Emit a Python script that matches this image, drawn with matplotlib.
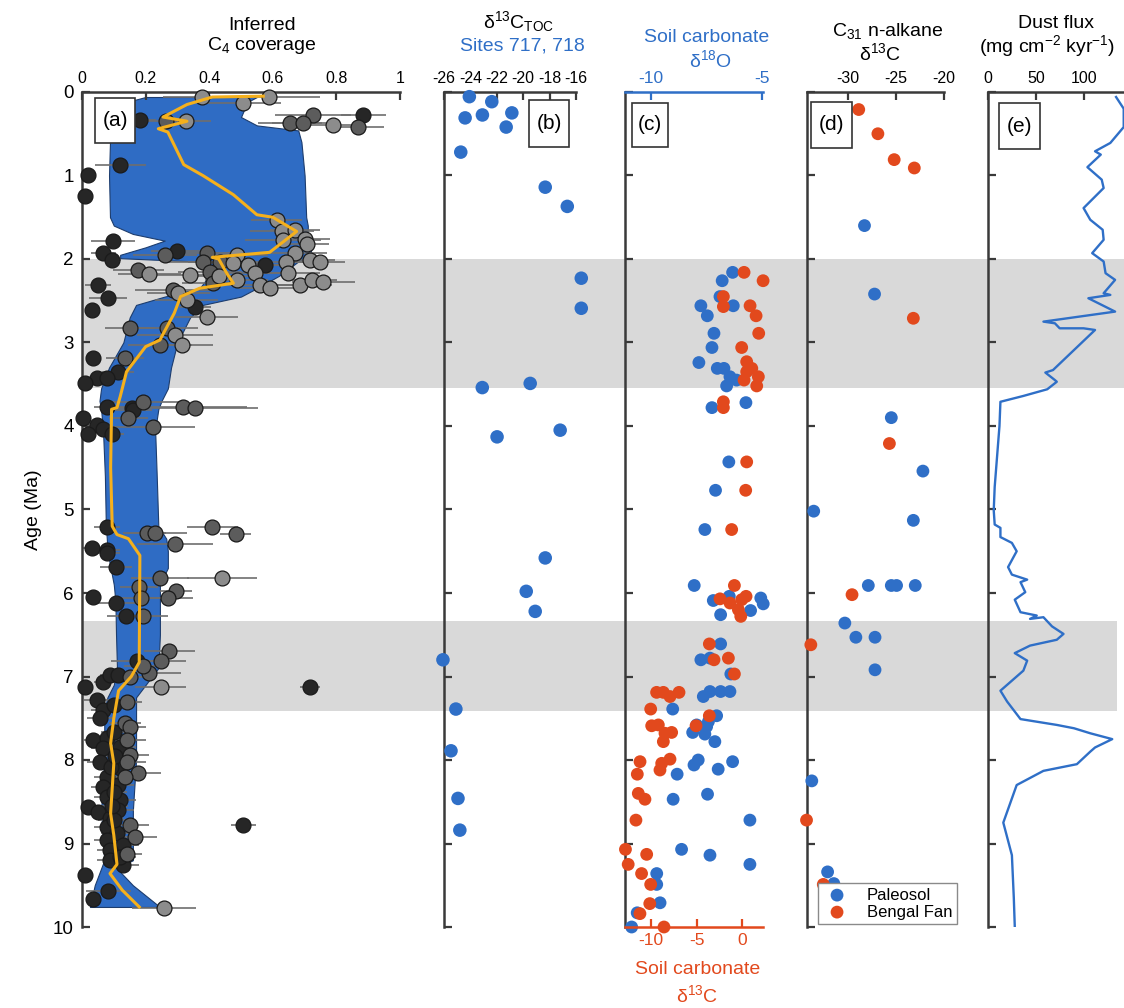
import matplotlib
matplotlib.use('Agg')
import matplotlib.pyplot as plt
from matplotlib.patches import Rectangle
from matplotlib.transforms import blended_transform_factory

plt.rcParams['font.family'] = ['Liberation Sans', 'DejaVu Sans']
plt.rcParams['mathtext.default'] = 'regular'
plt.rcParams['axes.unicode_minus'] = False

# ---------------- data ----------------
# panel (a): inferred C4 coverage (envelope, median, samples)
band_y = [0.06, 0.12, 0.30, 0.40, 0.46, 0.60, 1.00, 1.50, 1.60, 1.70, 1.78, 1.86, 1.95, 1.99, 2.03,
          2.20, 2.35, 2.45, 2.55, 2.70, 3.00, 3.30, 3.55, 3.70, 3.80, 4.05, 4.60, 5.20, 5.35, 5.50,
          5.70, 5.90, 6.10, 6.50, 6.90, 7.10, 7.25, 7.40, 8.00, 8.60, 9.20, 9.30, 9.50, 9.76]
band_lo = [0.20, 0.14, 0.10, 0.095, 0.09, 0.088, 0.085, 0.088, 0.10, 0.16, 0.26, 0.20, 0.12, 0.12, 0.36,
           0.40, 0.37, 0.26, 0.17, 0.15, 0.13, 0.085, 0.06, 0.055, 0.06, 0.066, 0.072, 0.075, 0.078, 0.08,
           0.09, 0.10, 0.105, 0.107, 0.11, 0.10, 0.08, 0.07, 0.07, 0.06, 0.07, 0.06, 0.04, 0.025]
band_hi = [0.55, 0.52, 0.50, 0.55, 0.68, 0.69, 0.70, 0.705, 0.71, 0.71, 0.72, 0.72, 0.72, 0.70, 0.68,
           0.62, 0.55, 0.50, 0.38, 0.34, 0.30, 0.28, 0.27, 0.25, 0.24, 0.23, 0.235, 0.24, 0.265, 0.27,
           0.27, 0.245, 0.245, 0.245, 0.24, 0.20, 0.17, 0.17, 0.17, 0.16, 0.16, 0.11, 0.16, 0.245]

med_y = [0.05, 0.06, 0.15, 0.30, 0.35, 0.44, 0.48, 0.87, 1.00, 1.23, 1.47, 1.50, 1.67, 1.92, 1.98,
         2.00, 2.17, 2.29, 2.35, 2.45, 2.65, 2.97, 3.05, 3.20, 3.35, 3.65, 3.78, 3.80, 4.50, 5.20,
         5.30, 5.35, 5.55, 6.83, 7.00, 7.17, 7.50, 7.80, 8.04, 8.64, 8.90, 9.25, 9.36, 9.56, 9.76]
med_x = [0.57, 0.41, 0.33, 0.255, 0.33, 0.24, 0.27, 0.32, 0.38, 0.476, 0.55, 0.60, 0.675, 0.59, 0.41,
         0.43, 0.455, 0.476, 0.37, 0.31, 0.29, 0.245, 0.20, 0.17, 0.14, 0.12, 0.11, 0.093, 0.09, 0.095,
         0.11, 0.146, 0.182, 0.18, 0.155, 0.115, 0.10, 0.09, 0.10, 0.09, 0.10, 0.11, 0.088, 0.127, 0.18]

a_dark_x = [0.182, 0.885, 0.120, 0.020, 0.010, 0.098, 0.067, 0.093, 0.298, 0.575, 0.051, 0.083, 0.355, 0.030,
            0.036, 0.114, 0.046, 0.078, 0.009, 0.078, 0.156, 0.161, 0.004, 0.046, 0.067, 0.093, 0.020, 0.078,
            0.030, 0.078, 0.080, 0.107, 0.036, 0.107, 0.138, 0.172, 0.717, 0.009, 0.067, 0.088, 0.114,
            0.046, 0.067, 0.057, 0.036, 0.078, 0.067, 0.120, 0.057, 0.120, 0.078, 0.067, 0.114, 0.078,
            0.120, 0.020, 0.051, 0.114, 0.088, 0.078, 0.109, 0.078, 0.130, 0.088, 0.088, 0.130,
            0.100, 0.100, 0.090, 0.100, 0.100, 0.120, 0.105, 0.095,
            0.507, 0.009, 0.083, 0.034]
a_dark_y = [0.335, 0.275, 0.874, 0.994, 1.25, 1.79, 1.93, 2.01, 1.91, 2.07, 2.31, 2.47, 2.57, 2.61,
            3.19, 3.35, 3.43, 3.43, 3.49, 3.77, 3.79, 3.81, 3.91, 3.99, 4.03, 4.09, 4.09, 5.21,
            5.46, 5.49, 5.52, 5.69, 6.05, 6.12, 6.28, 6.82, 7.12, 7.12, 7.06, 6.98, 6.98,
            7.28, 7.40, 7.50, 7.76, 7.74, 7.86, 7.84, 8.02, 8.10, 8.20, 8.32, 8.30, 8.44,
            8.48, 8.56, 8.62, 8.60, 8.70, 8.80, 8.88, 8.96, 9.02, 9.08, 9.20, 9.26,
            7.34, 7.66, 8.08, 8.38, 8.72, 9.16, 7.95, 8.55,
            8.78, 9.38, 9.57, 9.66]
a_dark_err = [0.05, 0.07, 0.08, 0.0, 0.0, 0.07, 0.04, 0.03, 0.08, 0.08, 0.04, 0.06, 0.05, 0.0,
              0.0, 0.05, 0.03, 0.03, 0.0, 0.04, 0.05, 0.06, 0.0, 0.03, 0.04, 0.04, 0.0, 0.04,
              0.03, 0.04, 0.04, 0.05, 0.02, 0.06, 0.06, 0.08, 0.03, 0.0, 0.03, 0.03, 0.03,
              0.04, 0.04, 0.04, 0.03, 0.05, 0.04, 0.05, 0.04, 0.05, 0.04, 0.04, 0.05, 0.04,
              0.05, 0.02, 0.04, 0.05, 0.04, 0.04, 0.05, 0.04, 0.05, 0.04, 0.04, 0.05,
              0.04, 0.04, 0.04, 0.04, 0.05, 0.05, 0.05, 0.05,
              0.04, 0.0, 0.07, 0.0]

a_mid_x = [0.264, 0.727, 0.654, 0.696, 0.869, 0.261, 0.392, 0.380, 0.434, 0.177, 0.402, 0.413, 0.287,
           0.151, 0.266, 0.245, 0.135, 0.193, 0.319, 0.355, 0.146, 0.224, 0.203, 0.230, 0.410, 0.483,
           0.292, 0.245, 0.180, 0.296, 0.186, 0.269, 0.191, 0.275, 0.248, 0.212, 0.193, 0.151, 0.140,
           0.135, 0.151, 0.140, 0.151, 0.140, 0.177, 0.135, 0.151, 0.167, 0.140]
a_mid_y = [0.343, 0.275, 0.375, 0.375, 0.415, 1.95, 1.93, 2.03, 2.03, 2.13, 2.15, 2.29, 2.37,
           2.83, 2.83, 3.03, 3.19, 3.71, 3.77, 3.79, 3.90, 4.01, 5.28, 5.28, 5.21, 5.29,
           5.41, 5.82, 5.93, 5.98, 6.06, 6.06, 6.28, 6.70, 6.82, 6.96, 6.88, 7.00, 7.30,
           7.56, 7.60, 7.76, 7.94, 8.02, 8.16, 8.20, 8.78, 8.92, 9.12]
a_mid_err = [0.06, 0.12, 0.10, 0.10, 0.08, 0.10, 0.12, 0.12, 0.10, 0.08, 0.10, 0.10, 0.12,
             0.08, 0.10, 0.10, 0.06, 0.12, 0.20, 0.20, 0.06, 0.13, 0.06, 0.10, 0.08, 0.05,
             0.12, 0.09, 0.06, 0.05, 0.08, 0.08, 0.08, 0.08, 0.08, 0.10, 0.06, 0.05, 0.05,
             0.05, 0.05, 0.06, 0.06, 0.06, 0.07, 0.06, 0.06, 0.07, 0.05]

a_light_x = [0.376, 0.589, 0.505, 0.327, 0.790, 0.612, 0.628, 0.670, 0.633, 0.700, 0.706, 0.486, 0.670,
             0.476, 0.523, 0.643, 0.717, 0.748, 0.212, 0.430, 0.544, 0.649, 0.340, 0.486, 0.560, 0.591,
             0.686, 0.722, 0.759, 0.303, 0.329, 0.392, 0.292, 0.313, 0.441, 0.248, 0.258]
a_light_y = [0.056, 0.056, 0.128, 0.343, 0.395, 1.53, 1.67, 1.65, 1.77, 1.76, 1.82, 1.95, 1.93,
             2.05, 2.07, 2.03, 2.01, 2.04, 2.18, 2.20, 2.17, 2.17, 2.19, 2.25, 2.31, 2.35,
             2.31, 2.25, 2.27, 2.41, 2.49, 2.69, 2.91, 3.03, 5.82, 7.12, 9.77]
a_light_err = [0.12, 0.16, 0.12, 0.08, 0.10, 0.08, 0.10, 0.08, 0.12, 0.08, 0.07, 0.10, 0.10,
               0.10, 0.10, 0.10, 0.08, 0.08, 0.10, 0.10, 0.10, 0.10, 0.12, 0.10, 0.10, 0.10,
               0.10, 0.08, 0.10, 0.10, 0.10, 0.10, 0.12, 0.10, 0.11, 0.08, 0.10]

# panel (b): d13C TOC, Sites 717, 718
b_x = [-24.08, -22.38, -24.40, -23.09, -20.86, -21.29, -24.73, -18.33, -16.66, -15.6, -15.6, -19.47,
       -23.10, -17.20, -21.98, -18.33, -19.77, -19.09, -26.08, -25.10, -25.47, -24.94, -24.80]
b_y = [0.056, 0.116, 0.31, 0.275, 0.25, 0.42, 0.72, 1.14, 1.37, 2.23, 2.59, 3.49,
       3.54, 4.05, 4.13, 5.58, 5.98, 6.22, 6.80, 7.39, 7.89, 8.46, 8.84]

# panel (c): soil carbonate d18O (blue) and d13C (red)
c_blue_y = [2.16, 2.26, 2.45, 2.56, 2.56, 2.68, 2.89, 3.06, 3.24, 3.31, 3.31, 3.41, 3.45, 3.52, 3.78, 3.72,
            4.43, 4.77, 5.24, 5.91, 6.09, 6.04, 6.06, 6.13, 6.21, 6.26, 6.61, 6.80, 6.78, 6.97, 7.24, 7.18,
            7.18, 7.18, 7.39, 7.47, 7.58, 7.60, 7.54, 7.67, 7.69, 7.78, 8.00, 8.06, 8.02, 8.11, 8.17, 8.47,
            8.41, 8.72, 9.07, 9.14, 9.25, 9.36, 9.49, 9.71, 9.83, 10.0]
c_blue_x = [-6.32, -6.79, -6.89, -6.29, -7.75, -7.46, -7.16, -7.25, -7.84, -7.01, -6.71, -6.44, -6.14, -6.59,
            -7.25, -5.72, -6.49, -7.09, -7.57, -8.05, -7.19, -6.47, -5.05, -4.94, -5.51, -6.86, -6.86, -7.75,
            -7.34, -6.40, -7.64, -7.34, -6.86, -6.44, -9.02, -7.04, -7.94, -7.49, -7.41, -8.12, -7.57, -7.12,
            -7.87, -8.06, -6.32, -6.97, -8.82, -9.00, -7.45, -5.54, -8.62, -7.34, -5.54, -9.74, -9.74, -9.59,
            -10.62, -10.87]
c_red_y = [2.16, 2.26, 2.45, 2.57, 2.56, 2.68, 2.89, 3.06, 3.23, 3.31, 3.35, 3.41, 3.45, 3.52, 3.78, 3.71,
           4.43, 4.77, 5.24, 5.91, 6.07, 6.12, 6.08, 6.04, 6.20, 6.28, 6.61, 6.80, 6.78, 6.97, 7.19, 7.19,
           7.24, 7.19, 7.39, 7.47, 7.59, 7.58, 7.59, 7.68, 7.67, 7.78, 8.02, 8.04, 7.99, 8.12, 8.17, 8.40,
           8.47, 8.72, 9.07, 9.13, 9.25, 9.36, 9.49, 9.72, 9.84, 10.0]
c_red_x = [0.22, 2.31, -2.05, -2.05, 0.88, 1.54, 1.83, -0.04, 0.51, 1.07, 0.51, 1.79, 0.22, 1.61, -2.05,
           -2.05, 0.51, 0.40, -1.14, -0.84, -2.42, -1.32, -0.04, 0.44, -0.40, -0.14, -3.59, -3.08, -1.50,
           -0.84, -9.38, -8.64, -7.91, -6.92, -10.03, -3.59, -9.92, -9.19, -5.05, -8.46, -7.73, -8.64,
           -11.20, -8.82, -7.91, -9.01, -11.50, -11.39, -10.66, -11.65, -12.80, -10.47, -12.50, -11.03,
           -10.03, -10.13, -11.21, -8.57]

# panel (d): C31 n-alkane d13C
d_blue_x = [-28.3, -27.25, -25.5, -22.2, -33.6, -23.2, -27.9, -25.5, -24.95, -23.0, -30.35, -29.2,
            -27.2, -27.2, -33.8, -32.15, -31.5]
d_blue_y = [1.60, 2.42, 3.90, 4.54, 5.02, 5.13, 5.91, 5.91, 5.91, 5.91, 6.36, 6.53,
            6.53, 6.92, 8.25, 9.34, 9.48]
d_red_x = [-28.9, -26.9, -25.2, -23.1, -23.2, -25.7, -29.6, -33.9, -34.35, -32.6]
d_red_y = [0.21, 0.50, 0.81, 0.91, 2.71, 4.21, 6.02, 6.62, 8.72, 9.49]

# panel (e): dust flux
e_y = [0.06, 0.20, 0.42, 0.61, 0.71, 0.75, 0.90, 1.05, 1.15, 1.39, 1.53, 1.65, 1.77, 1.93, 2.03,
       2.17, 2.25, 2.41, 2.43, 2.47, 2.63, 2.75, 2.77, 2.83, 2.83, 2.85, 3.33, 3.36, 3.45, 3.47,
       3.56, 3.64, 3.71, 4.00, 4.73, 5.01, 5.18, 5.22, 5.33, 5.40, 5.50, 5.69, 5.78, 5.84, 5.87,
       5.99, 6.08, 6.23, 6.27, 6.31, 6.29, 6.40, 6.49, 6.56, 6.63, 6.72, 6.81, 6.93, 7.00, 7.17,
       7.30, 7.51, 7.58, 7.62, 7.68, 7.75, 7.85, 7.90, 8.05, 8.13, 8.30, 8.75, 9.14, 9.65, 9.99]
e_x = [134, 142, 142, 128, 112, 118, 104, 119, 121, 100, 107, 120, 121, 109, 121,
       123, 133, 121, 128, 105, 133, 58, 70, 75, 100, 112, 68, 60, 70, 72,
       62, 37, 13, 12, 7, 6, 7, 13, 13, 25, 30, 21, 25, 41, 34,
       39, 28, 34, 51, 44, 58, 67, 79, 72, 44, 28, 41, 37, 30, 13,
       20, 34, 72, 90, 107, 130, 112, 107, 93, 58, 30, 16, 25, 27, 28]

age_ticks = list(range(11))
gray_bands = [(2.0, 3.54, 1124), (6.34, 7.41, 1117)]

# ---------------- style ----------------
SPINE = '#3a3a3a'
BLUE = '#2f6fc7'
RED = '#e2491d'
ORANGE = '#f5b01c'
BANDBLUE = '#2f6cc4'
TICKFS = 11.5

W, H = 1124, 1008
fig = plt.figure(figsize=(W / 100, H / 100), dpi=100)


def fx(x):
    return x / W


def fy(y):
    return 1 - y / H


def axes_px(x0, x1, y0=92, y1=927):
    return fig.add_axes([fx(x0), fy(y1), (x1 - x0) / W, (y1 - y0) / H])


def style(ax, ylabels=False):
    ax.set_facecolor('none')
    ax.set_ylim(10, 0)
    ax.spines['right'].set_visible(False)
    ax.spines['bottom'].set_visible(False)
    for s in ['left', 'top']:
        ax.spines[s].set_color(SPINE)
        ax.spines[s].set_linewidth(1.8)
    ax.xaxis.set_ticks_position('top')
    ax.yaxis.set_ticks_position('left')
    ax.set_yticks(age_ticks)
    ax.tick_params(axis='both', direction='in', length=6, width=1.6, color=SPINE)
    ax.tick_params(axis='x', labelsize=TICKFS, pad=4)
    ax.tick_params(axis='y', labelsize=13.5, pad=6, labelleft=ylabels)


ax_a = axes_px(82, 400)
ax_b = axes_px(444, 576)
ax_c = axes_px(625, 763)
ax_d = axes_px(807, 944)
ax_e = axes_px(988, 1124)

for ax in [ax_a, ax_b, ax_c, ax_d, ax_e]:
    style(ax, ylabels=(ax is ax_a))

# gray bands across panels
trans = blended_transform_factory(fig.transFigure, ax_a.transData)
for y0, y1, xr in gray_bands:
    fig.add_artist(Rectangle((fx(82), y0), fx(xr) - fx(82), y1 - y0, transform=trans,
                             facecolor='#d9d9d9', edgecolor='none', zorder=-1))

# ---- panel (a)
ax_a.set_xlim(0, 1)
ax_a.set_xticks([0, 0.2, 0.4, 0.6, 0.8, 1])
ax_a.set_xticklabels(['0', '0.2', '0.4', '0.6', '0.8', '1'])
ax_a.fill_betweenx(band_y, band_lo, band_hi, facecolor=BANDBLUE, edgecolor='#1d3d6e', lw=0.8, zorder=1)
for xs, ys, es in [(a_dark_x, a_dark_y, a_dark_err), (a_mid_x, a_mid_y, a_mid_err),
                   (a_light_x, a_light_y, a_light_err)]:
    ax_a.errorbar(xs, ys, xerr=es, fmt='none', ecolor='#6e6e6e', elinewidth=1.2, capsize=0,
                  zorder=2, clip_on=False)
for xs, ys, col in [(a_dark_x, a_dark_y, '#262626'), (a_mid_x, a_mid_y, '#5c5c5c'),
                    (a_light_x, a_light_y, '#8c8c8c')]:
    ax_a.scatter(xs, ys, s=115, c=col, edgecolors='#1a1a1a', linewidths=0.9, zorder=3, clip_on=False)
ax_a.plot(med_x, med_y, color=ORANGE, lw=2.2, zorder=4)
ax_a.set_ylabel('Age (Ma)', fontsize=14, labelpad=8)

# ---- panel (b)
ax_b.set_xlim(-26, -16)
ax_b.set_xticks([-26, -24, -22, -20, -18, -16])
ax_b.scatter(b_x, b_y, s=95, c=BLUE, edgecolors='none', zorder=3, clip_on=False)

# ---- panel (c): top (blue) d18O on main axis, bottom (red) d13C on twin
ax_c2 = ax_c.twiny()
ax_c.xaxis.set_ticks_position('top')
ax_c.xaxis.set_label_position('top')
ax_c.set_xlim(-11.17, -4.95)
ax_c.set_xticks([-10, -5])
ax_c.spines['top'].set_color(BLUE)
ax_c.spines['top'].set_linewidth(1.8)
ax_c.tick_params(axis='x', direction='in', length=6, width=1.6, colors=BLUE, labelsize=TICKFS + 1, pad=4,
                 top=True, bottom=False, labeltop=True, labelbottom=False)
ax_c.scatter(c_blue_x, c_blue_y, s=85, c=BLUE, edgecolors='none', zorder=3, clip_on=False)

ax_c2.set_facecolor('none')
ax_c2.set_xlim(-12.85, 2.3)
ax_c2.set_ylim(10, 0)
for s in ['top', 'right', 'left']:
    ax_c2.spines[s].set_visible(False)
ax_c2.spines['bottom'].set_visible(True)
ax_c2.spines['bottom'].set_color(RED)
ax_c2.spines['bottom'].set_linewidth(1.8)
ax_c2.xaxis.set_ticks_position('bottom')
ax_c2.xaxis.set_label_position('bottom')
ax_c2.set_xticks([-10, -5, 0])
ax_c2.tick_params(axis='x', direction='in', length=6, width=1.6, colors=RED, labelsize=TICKFS + 1, pad=4,
                  top=False, bottom=True, labeltop=False, labelbottom=True)
ax_c2.scatter(c_red_x, c_red_y, s=85, c=RED, edgecolors='none', zorder=3, clip_on=False)

# ---- panel (d)
ax_d.set_xlim(-34.3, -20)
ax_d.set_xticks([-30, -25, -20])
hb = ax_d.scatter(d_blue_x, d_blue_y, s=85, c=BLUE, edgecolors='none', zorder=3, clip_on=False)
hr = ax_d.scatter(d_red_x, d_red_y, s=85, c=RED, edgecolors='none', zorder=3, clip_on=False)
leg = ax_d.legend([hb, hr], ['Paleosol', 'Bengal Fan'], loc='lower left',
                  bbox_to_anchor=(0.055, 0.0), frameon=True, fancybox=False, framealpha=1,
                  edgecolor='#8a8a8a', fontsize=12, handletextpad=0.9, borderpad=0.25,
                  labelspacing=0.12, handlelength=1.8, borderaxespad=0.2)
leg.get_frame().set_linewidth(1.0)
leg.set_zorder(6)

# ---- panel (e)
ax_e.set_xlim(0, 142.3)
ax_e.set_xticks([0, 50, 100])
ax_e.plot(e_x, e_y, color=BLUE, lw=1.7, zorder=3)


# ---------------- text ----------------
def ftext(x, y, s, **kw):
    fig.text(fx(x), fy(y), s, ha='center', va='center', **kw)


ftext(262, 25, 'Inferred', fontsize=14)
ftext(262, 46, 'C$_4$ coverage', fontsize=14)
ftext(519, 22, 'δ$^{13}$C$_{TOC}$', fontsize=14)
ftext(522, 46, 'Sites 717, 718', fontsize=14, color=BLUE)
ftext(707, 38, 'Soil carbonate', fontsize=14, color=BLUE)
ftext(710, 60, 'δ$^{18}$O', fontsize=14, color=BLUE)
ftext(888, 31, 'C$_{31}$ n-alkane', fontsize=14)
ftext(880, 53, 'δ$^{13}$C', fontsize=14)
ftext(1056, 23, 'Dust flux', fontsize=14)
ftext(1047, 46, '(mg cm$^{-2}$ kyr$^{-1}$)', fontsize=14)
ftext(698, 970, 'Soil carbonate', fontsize=14, color=RED)
ftext(697, 995, 'δ$^{13}$C', fontsize=14, color=RED)


def boxlabel(text, x0, x1, y0, y1):
    fig.add_artist(Rectangle((fx(x0), fy(y1)), (x1 - x0) / W, (y1 - y0) / H, transform=fig.transFigure,
                             facecolor='white', edgecolor='#333333', lw=1.2, zorder=10))
    fig.text(fx((x0 + x1) / 2), fy((y0 + y1) / 2), text, ha='center', va='center',
             fontsize=15, zorder=11)


boxlabel('(a)', 95, 135, 98, 143)
boxlabel('(b)', 529, 569, 100, 147)
boxlabel('(c)', 632, 668, 103, 147)
boxlabel('(d)', 811, 852, 102, 148)
boxlabel('(e)', 999, 1040, 103, 149)

fig.savefig('out.png', dpi=100)
